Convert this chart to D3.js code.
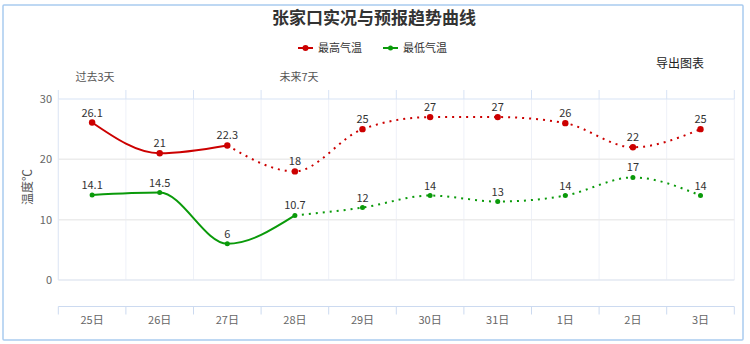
<!DOCTYPE html>
<html>
<head>
<meta charset="utf-8">
<script src="https://cdn.jsdelivr.net/npm/d3@7/dist/d3.min.js"></script>
<style>
  html, body { margin: 0; padding: 0; background: #fff; }
  svg { display: block; font-family: "Noto Sans CJK SC", "Noto Sans", sans-serif; }
</style>
</head>
<body>
<svg id="chart" width="750" height="344"></svg>
<script>
const categories = ["25日", "26日", "27日", "28日", "29日", "30日", "31日", "1日", "2日", "3日"];
const maxTemps = [26.1, 21, 22.3, 18, 25, 27, 27, 26, 22, 25];
const minTemps = [14.1, 14.5, 6, 10.7, 12, 14, 13, 14, 17, 14];
const maxSolidEnd = 2;   // index where observed max ends
const minSolidEnd = 3;   // index where observed min ends
const yTicks = [0, 10, 20, 30];
const titleText = "张家口实况与预报趋势曲线";
const seriesNames = ["最高气温", "最低气温"];
const colors = ["#cc0000", "#0a9a0a"];

const svg = d3.select("#chart");
const W = 750, H = 344;

// outer border
svg.append("rect").attr("x", 3).attr("y", 5).attr("width", 740).attr("height", 335)
  .attr("fill", "#fff").attr("stroke", "#a9cbef").attr("stroke-width", 1.5).attr("rx", 1);

const x = d3.scaleBand().domain(categories).range([58.3, 734.3]);
const y = d3.scaleLinear().domain([0, 30]).range([280, 99]);
const cx = d => x(d) + x.bandwidth() / 2;

// title
svg.append("text").attr("x", 374).attr("y", 24).attr("text-anchor", "middle")
  .attr("font-size", 17).attr("font-weight", "bold").attr("fill", "#333").text(titleText);

// legend
const legendX = [298, 383];
seriesNames.forEach((n, i) => {
  const g = svg.append("g").attr("transform", `translate(${legendX[i]},48)`);
  g.append("line").attr("x1", 0).attr("x2", 15).attr("y1", 0).attr("y2", 0)
    .attr("stroke", colors[i]).attr("stroke-width", 2);
  g.append("circle").attr("cx", 7.5).attr("cy", 0).attr("r", i === 0 ? 3 : 2.5).attr("fill", colors[i]);
  g.append("text").attr("x", 20).attr("y", 4).attr("font-size", 11).attr("fill", "#333").text(n);
});

// export text
svg.append("text").attr("x", 680).attr("y", 68).attr("text-anchor", "middle")
  .attr("font-size", 12).attr("fill", "#222").text("导出图表");

// past / future labels
svg.append("text").attr("x", 95).attr("y", 81).attr("text-anchor", "middle")
  .attr("font-size", 11).attr("fill", "#555").text("过去3天");
svg.append("text").attr("x", 299).attr("y", 81).attr("text-anchor", "middle")
  .attr("font-size", 11).attr("fill", "#555").text("未来7天");

// vertical grid lines (category boundaries)
const bounds = categories.map(c => x(c)).concat([x.range()[1]]);
svg.append("g").selectAll("line").data(bounds).join("line")
  .attr("x1", d => d).attr("x2", d => d).attr("y1", 99).attr("y2", 280)
  .attr("stroke", "#eef1f8").attr("stroke-width", 1);

// horizontal grid
svg.append("g").selectAll("line").data(yTicks).join("line")
  .attr("x1", 58.3).attr("x2", 734.3).attr("y1", d => y(d)).attr("y2", d => y(d))
  .attr("stroke", d => d === 30 ? "#d8e3f5" : (d === 0 ? "#e3e8f2" : "#ececec"))
  .attr("stroke-width", d => d === 30 ? 1.2 : 1.5);

// top axis ticks
svg.append("g").selectAll("line").data(bounds).join("line")
  .attr("x1", d => d).attr("x2", d => d).attr("y1", 90).attr("y2", 99)
  .attr("stroke", "#d8e3f5").attr("stroke-width", 1);

// y-axis line
svg.append("line").attr("x1", 58.3).attr("x2", 58.3).attr("y1", 99).attr("y2", 280)
  .attr("stroke", "#e0e8f5").attr("stroke-width", 1);

// y labels
svg.append("g").selectAll("text").data(yTicks).join("text")
  .attr("x", 52).attr("y", d => y(d) + 4).attr("text-anchor", "end")
  .attr("font-size", 11).attr("fill", "#666").text(d => d);

// y title
svg.append("text").attr("transform", "translate(32,187) rotate(-90)")
  .attr("text-anchor", "middle").attr("font-size", 12).attr("fill", "#555").text("温度℃");

// bottom x axis
const xAxisY = 306.5;
svg.append("line").attr("x1", 58.3).attr("x2", 734.3).attr("y1", xAxisY).attr("y2", xAxisY)
  .attr("stroke", "#ccdaf0").attr("stroke-width", 1.2);
svg.append("g").selectAll("line").data(bounds).join("line")
  .attr("x1", d => d).attr("x2", d => d).attr("y1", xAxisY).attr("y2", xAxisY + 8)
  .attr("stroke", "#ccdaf0").attr("stroke-width", 1);
svg.append("g").selectAll("text").data(categories).join("text")
  .attr("x", d => cx(d)).attr("y", 324).attr("text-anchor", "middle")
  .attr("font-size", 11).attr("fill", "#666").text(d => d);

// series
const line = d3.line().x(d => cx(d.c)).y(d => y(d.v)).curve(d3.curveMonotoneX);
function drawSeries(vals, solidEnd, color, r) {
  const pts = vals.map((v, i) => ({ c: categories[i], v: v, i: i }));
  const solid = pts.slice(0, solidEnd + 1);
  const dotted = pts.slice(solidEnd);
  svg.append("path").datum(solid).attr("d", line).attr("fill", "none")
    .attr("stroke", color).attr("stroke-width", 2);
  svg.append("path").datum(dotted).attr("d", line).attr("fill", "none")
    .attr("stroke", color).attr("stroke-width", 2).attr("stroke-dasharray", "2,5");
  svg.append("g").selectAll("circle").data(pts).join("circle")
    .attr("cx", d => cx(d.c)).attr("cy", d => y(d.v)).attr("r", r).attr("fill", color);
  svg.append("g").selectAll("text").data(pts).join("text")
    .attr("x", d => cx(d.c)).attr("y", d => y(d.v) - 6).attr("text-anchor", "middle")
    .attr("font-size", 11).attr("fill", "#333").text(d => d.v);
}
drawSeries(maxTemps, maxSolidEnd, colors[0], 3.2);
drawSeries(minTemps, minSolidEnd, colors[1], 2.5);
</script>
</body>
</html>
